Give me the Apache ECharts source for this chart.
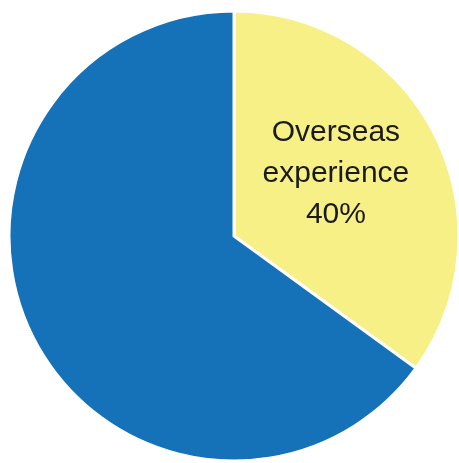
<!DOCTYPE html>
<html><head><meta charset="utf-8">
<script src="https://cdn.jsdelivr.net/npm/echarts@6/dist/echarts.min.js"></script>
<style>html,body{margin:0;padding:0;background:#fff}#c{width:459px;height:463px}</style>
</head><body><div id="c"></div>
<script>
var categories = ['Overseas experience', 'Other'];
var values = [35, 65];
var labelTexts = ['Overseas\nexperience\n40%', ''];
var colors = ['#f6f086', '#1571b8'];

var chart = echarts.init(document.getElementById('c'), null, {renderer: 'canvas'});
chart.setOption({
  animation: false,
  series: [{
    type: 'pie',
    center: [234, 236],
    radius: [0, 225],
    startAngle: 90,
    clockwise: true,
    silent: true,
    itemStyle: {borderColor: '#fff', borderWidth: 3},
    data: categories.map(function (c, i) {
      return {
        name: c, value: values[i],
        itemStyle: {color: colors[i]},
        label: {show: labelTexts[i] !== '', formatter: labelTexts[i]}
      };
    }),
    label: {
      position: 'inside',
      fontFamily: 'Liberation Sans, Arial, sans-serif',
      fontSize: 30,
      lineHeight: 41,
      color: '#1a1a1a',
      offset: [-1, -10]
    },
    labelLine: {show: false}
  }]
});
</script></body></html>
